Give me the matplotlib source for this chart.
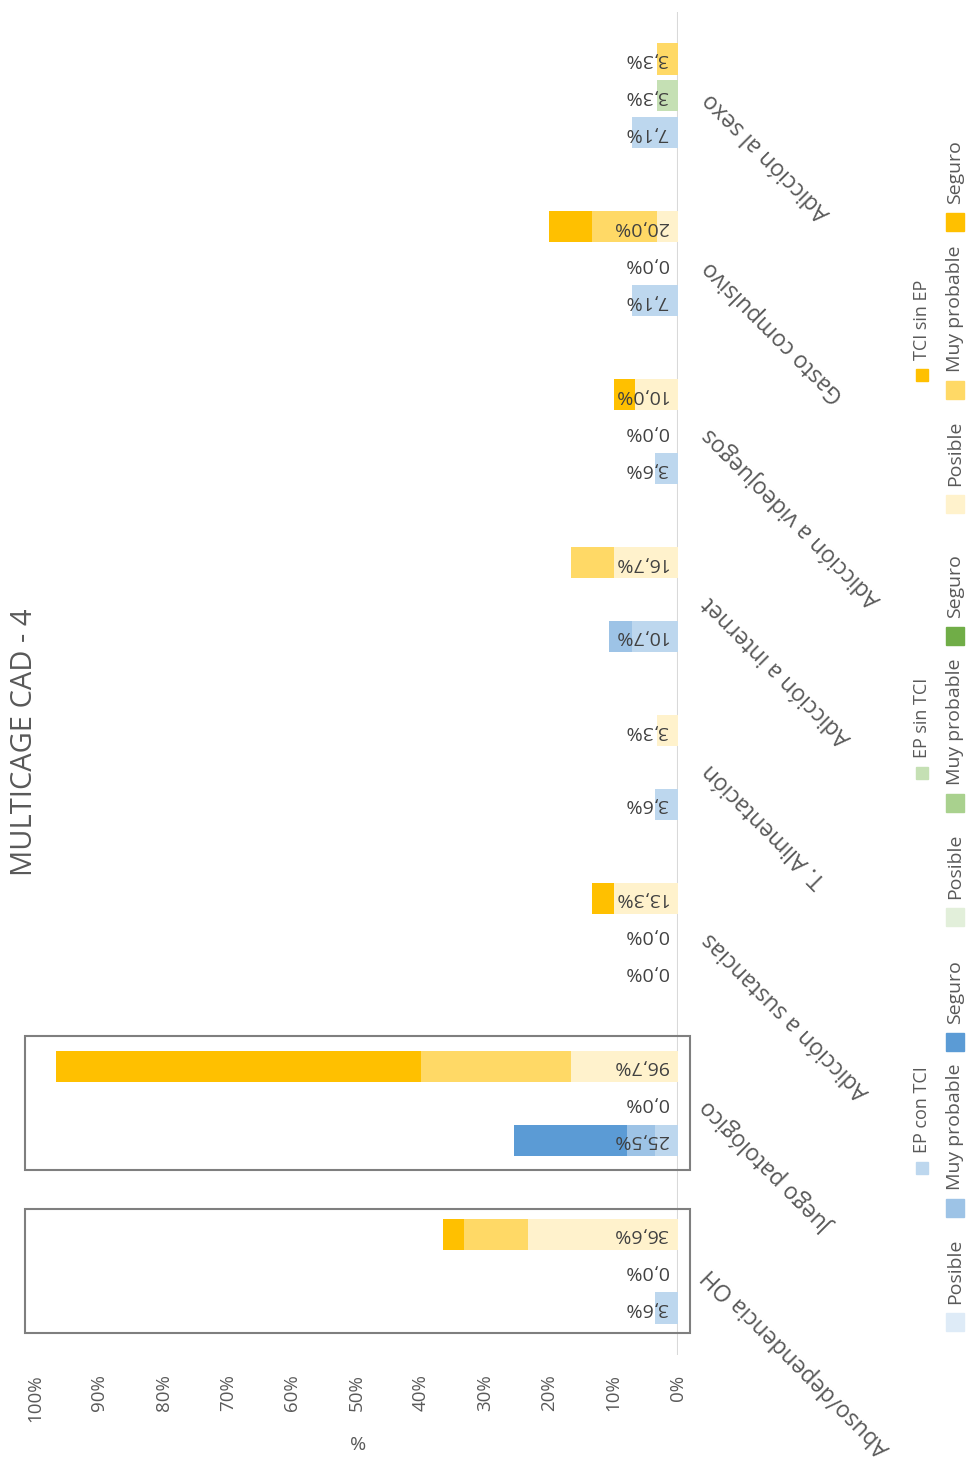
import numpy as np
import matplotlib.pyplot as plt
from matplotlib.patches import Rectangle

plt.rcParams['font.family'] = ['Open Sans', 'DejaVu Sans']

# Categories, listed bottom to top in the picture
categories = ['Abuso/dependencia OH', 'Juego patológico', 'Adicción a sustancias',
              'T. Alimentación', 'Adicción a internet', 'Adicción a videojuegos',
              'Gasto compulsivo', 'Adicción al sexo']

# Totals per group (nan = no bar / no label)
ep_con_tci = [3.6, 25.5, 0.0, 3.6, 10.7, 3.6, 7.1, 7.1]
ep_sin_tci = [0.0, 0.0, 0.0, np.nan, np.nan, 0.0, 0.0, 3.3]
tci_sin_ep = [36.6, 96.7, 13.3, 3.3, 16.7, 10.0, 20.0, 3.3]

# Breakdown EP con TCI
ep_con_posible = [3.6, 3.6, 0.0, 3.6, 7.1, 3.6, 7.1, 7.1]
ep_con_muy = [0.0, 4.3, 0.0, 0.0, 3.6, 0.0, 0.0, 0.0]
ep_con_seguro = [0.0, 17.6, 0.0, 0.0, 0.0, 0.0, 0.0, 0.0]

# Breakdown TCI sin EP
tci_posible = [23.3, 16.7, 10.0, 3.3, 10.0, 6.7, 3.3, 0.0]
tci_muy = [10.0, 23.3, 0.0, 0.0, 6.7, 0.0, 10.0, 3.3]
tci_seguro = [3.3, 56.7, 3.3, 0.0, 0.0, 3.3, 6.7, 0.0]

# boxed categories and their half heights
highlight = {0: 0.37, 1: 0.40}

grey = '#595959'
W, H = 968, 1458
fig = plt.figure(figsize=(W / 100, H / 100), dpi=100)
ax = fig.add_axes([35 / W, 1 - 1355 / H, (678 - 35) / W, (1355 - 12) / H])

y = np.arange(len(categories))
bh = 0.185
off = 0.22

# total bars behind
ax.barh(y - off, np.nan_to_num(ep_con_tci), height=bh, color='#bdd7ee', zorder=2)
ax.barh(y, np.nan_to_num(ep_sin_tci), height=bh, color='#c5e0b4', zorder=2)
ax.barh(y + off, tci_sin_ep, height=bh, color='#ffc000', zorder=2)

# stacked breakdown on top
left = np.zeros(len(y))
for vals, col in [(ep_con_posible, '#bdd7ee'), (ep_con_muy, '#9dc3e6'), (ep_con_seguro, '#5b9bd5')]:
    ax.barh(y - off, vals, left=left, height=bh, color=col, zorder=3)
    left += np.array(vals)
left = np.zeros(len(y))
for vals, col in [(tci_posible, '#fff2cc'), (tci_muy, '#ffd966'), (tci_seguro, '#ffc000')]:
    ax.barh(y + off, vals, left=left, height=bh, color=col, zorder=3)
    left += np.array(vals)

# value labels (upside down like the source)
for vals, dy in [(ep_con_tci, -off), (ep_sin_tci, 0), (tci_sin_ep, off)]:
    for i, v in enumerate(vals):
        if np.isnan(v):
            continue
        ax.text(1.6, i + dy, f'{v:.1f}'.replace('.', ',') + '%', rotation=180,
                rotation_mode='anchor', ha='left', va='center', fontsize=14,
                color='#404040', zorder=5)

# category labels
for i, c in enumerate(categories):
    ax.text(-4.4, i, c, rotation=135, rotation_mode='anchor', ha='right', va='center',
            fontsize=16.5, color=grey, clip_on=False)

# highlight boxes
for i, hh in highlight.items():
    ax.add_patch(Rectangle((-1.9, i - hh), 103.5, 2 * hh, fill=False,
                           edgecolor='#7f7f7f', lw=1.5, clip_on=False, zorder=6))

ax.axvline(0, color='#d9d9d9', lw=1.5, zorder=1)
ax.set_xlim(100, 0)
ax.set_ylim(-0.5, len(categories) - 0.5)
ax.set_xticks(np.arange(0, 101, 10))
ax.set_xticklabels([f'{t}%' for t in range(0, 101, 10)])
ax.tick_params(axis='x', length=0, pad=14, labelrotation=90, labelsize=13.5, colors=grey)
ax.set_yticks([])
for s in ax.spines.values():
    s.set_visible(False)

fig.text(358 / W, 1 - 1445 / H, '%', fontsize=14, color=grey, ha='center', va='center')
fig.text(25 / W, 1 - 742 / H, 'MULTICAGE CAD - 4', rotation=90, fontsize=21,
         color=grey, ha='center', va='center')

# legend drawn by hand, rotated
def legend_item(xc, yc, size, color, label, fs):
    fig.add_artist(Rectangle(((xc - size / 2) / W, 1 - (yc + size / 2) / H), size / W, size / H,
                             transform=fig.transFigure, color=color))
    fig.text(xc / W, 1 - (yc - size / 2 - 9) / H, label, rotation=90, rotation_mode='anchor',
             ha='left', va='center', fontsize=fs, color=grey)

sub = [('#deebf7', 'Posible', 1322), ('#9dc3e6', 'Muy probable', 1208), ('#5b9bd5', 'Seguro', 1042),
       ('#e2efda', 'Posible', 917), ('#a9d18e', 'Muy probable', 803), ('#70ad47', 'Seguro', 636),
       ('#fff2cc', 'Posible', 504), ('#ffd966', 'Muy probable', 390), ('#ffc000', 'Seguro', 222)]
for col, lab, yc in sub:
    legend_item(955, yc, 18, col, lab, 14)
for col, lab, yc in [('#bdd7ee', 'EP con TCI', 1168), ('#c5e0b4', 'EP sin TCI', 773),
                     ('#ffc000', 'TCI sin EP', 375)]:
    legend_item(922, yc, 12, col, lab, 13)

fig.savefig('out.png', dpi=100)
